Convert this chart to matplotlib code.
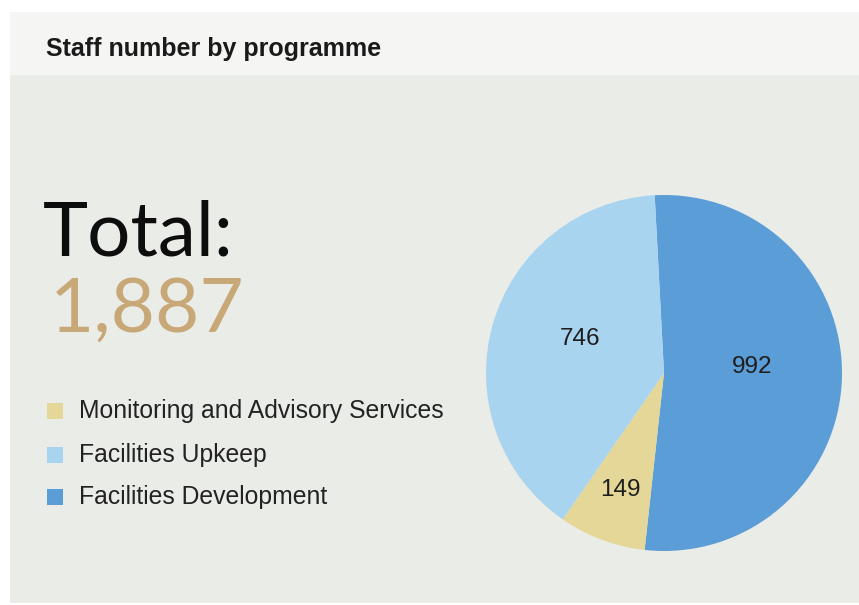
import numpy as np
import matplotlib.pyplot as plt
from matplotlib.patches import Rectangle

# Data
categories = ["Monitoring and Advisory Services", "Facilities Upkeep", "Facilities Development"]
staff = [149, 746, 992]
colors = ["#e4d797", "#a9d4ef", "#5b9dd6"]
total_label = "1,887"

fig = plt.figure(figsize=(8.59, 6.05), dpi=100)
fig.patch.set_facecolor("white")

W, H = 859, 605
def fx(x): return x / W
def fy(y): return 1 - y / H

# Header band and main panel
fig.patches.append(Rectangle((fx(10), fy(75)), fx(849), (75 - 12) / H,
                             transform=fig.transFigure, facecolor="#f5f5f3",
                             edgecolor="none", zorder=-2))
fig.patches.append(Rectangle((fx(10), fy(603)), fx(849), (603 - 75) / H,
                             transform=fig.transFigure, facecolor="#eaece8",
                             edgecolor="none", zorder=-2))

fig.text(fx(46), fy(49), "Staff number by programme", family="Liberation Sans",
         fontweight="bold", fontsize=18, color="#1a1a1a", va="center", ha="left")

fig.text(fx(43), fy(256), "Total:", family="Lato", fontsize=55,
         color="#0d0d0d", va="baseline", ha="left")
fig.text(fx(50), fy(332), total_label, family="Lato", fontsize=55,
         color="#c9a878", va="baseline", ha="left")

# Legend
legend_y = [411, 455, 497]
for cat, col, y in zip(categories, colors, legend_y):
    fig.patches.append(Rectangle((fx(47), fy(y + 8)), 16 / W, 16 / H,
                                 transform=fig.transFigure, facecolor=col,
                                 edgecolor="none", zorder=2))
    fig.text(fx(79), fy(y), cat, family="Liberation Sans", fontsize=17.8,
             color="#222222", va="center", ha="left")

# Pie
cx, cy, r = 664, 373, 178
ax = fig.add_axes([fx(cx - r), fy(cy + r), 2 * r / W, 2 * r / H])
ax.set_facecolor("none")
order = [2, 0, 1]
vals = [staff[i] for i in order]
cols = [colors[i] for i in order]
wedges, _ = ax.pie(vals, colors=cols, startangle=93, counterclock=False,
                   wedgeprops=dict(linewidth=0), radius=1.0)
# value labels: (radius fraction, angular nudge in degrees)
label_pos = {2: (0.495, 5.5), 0: (0.70, 0.0), 1: (0.51, -6.0)}
for w, i in zip(wedges, order):
    d, nudge = label_pos[i]
    mid = np.deg2rad((w.theta1 + w.theta2) / 2 + nudge)
    ax.text(d * np.cos(mid), d * np.sin(mid), f"{staff[i]}", ha="center", va="center",
            family="Liberation Sans", fontsize=17.5, color="#1e1e1e")
ax.set_xlim(-1, 1)
ax.set_ylim(-1, 1)
ax.set_aspect("equal")
ax.axis("off")

fig.savefig("out.png", dpi=100, facecolor=fig.get_facecolor())
